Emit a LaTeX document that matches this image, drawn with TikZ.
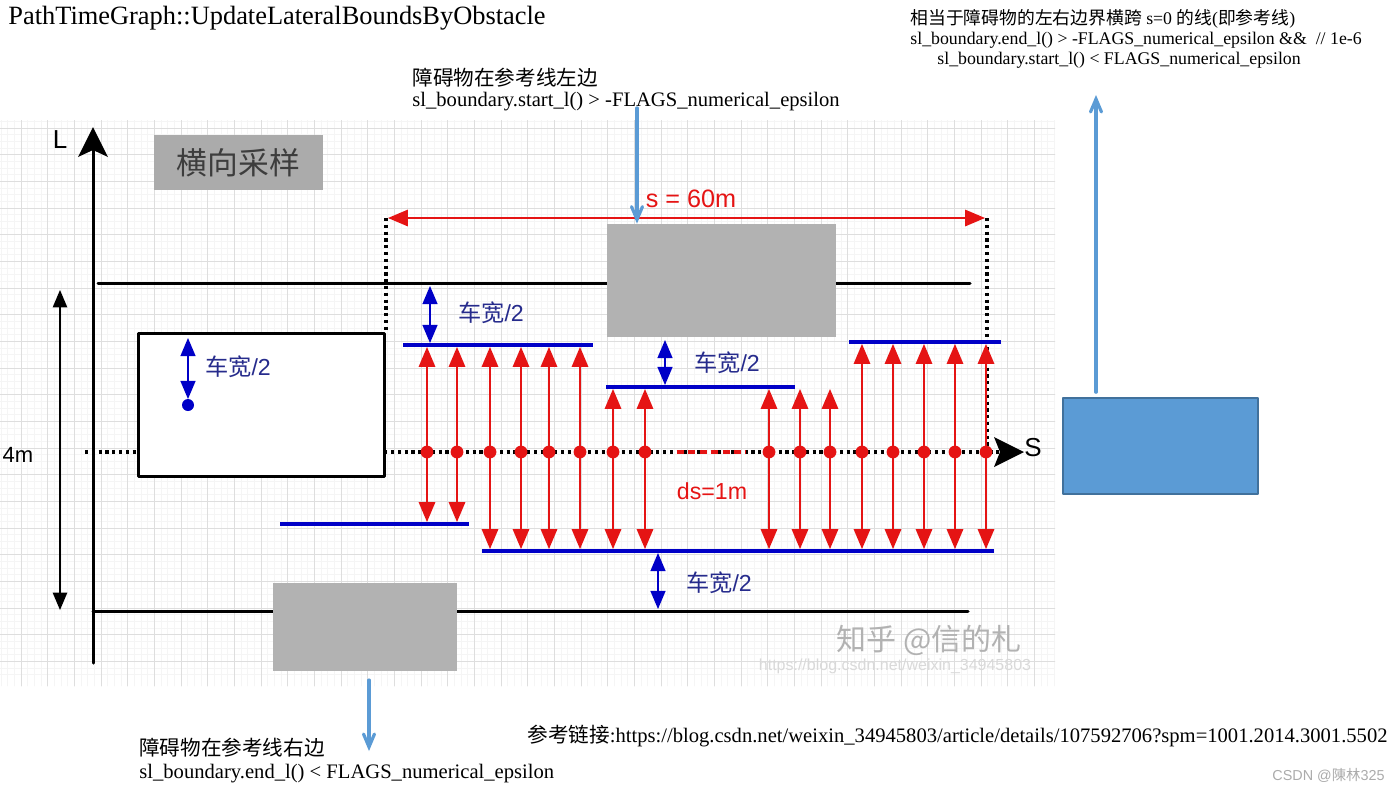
\documentclass[tikz,border=0pt]{standalone}
\usepackage{fontspec}
\setmainfont{Liberation Serif}
\newfontfamily\cjk{Noto Sans CJK SC}
\newfontfamily\arialf{Liberation Sans}
\usetikzlibrary{arrows}
\definecolor{ffqqqq}{rgb}{0.9,0.08,0.08}
\definecolor{qqqqcc}{rgb}{0.,0.,0.78}
\definecolor{zzqqww}{rgb}{0.15,0.17,0.55}
\definecolor{wwccff}{rgb}{0.357,0.608,0.835}
\definecolor{zzwwww}{rgb}{0.255,0.443,0.612}
\definecolor{bfbfbf}{rgb}{0.7,0.7,0.7}
\definecolor{sqsqsq}{rgb}{0.67,0.67,0.67}
\definecolor{zdzdzd}{rgb}{0.24,0.24,0.24}
\definecolor{dcdcdc}{rgb}{0.87,0.87,0.87}
\definecolor{fgfgfg}{rgb}{0.96,0.96,0.96}

\begin{document}
\begin{tikzpicture}[line cap=round,line join=round,>=triangle 45,x=0.5pt,y=-0.5pt,
	note/.style={anchor=base west,inner sep=0,font=\fontsize{10.3}{12}\selectfont},
	notes/.style={anchor=base west,inner sep=0,font=\fontsize{8.9}{10}\selectfont},
	lbl/.style={inner sep=0,font=\arialf\fontsize{11.6}{13}\selectfont},
	obst/.style={fill=bfbfbf,draw=none,inner sep=0},
	road/.style={line width=1.5pt,color=black},
	refline/.style={line width=1.6pt,line cap=butt,dash pattern=on 1.6pt off 1.8pt},
	bound/.style={line width=1.9pt,color=qqqqcc,line cap=butt},
	dimarr/.style={<->,line width=1.1pt,color=qqqqcc},
	samp/.style={<->,line width=1.3pt,color=ffqqqq},
	annot/.style={-angle 45,line width=1.6pt,color=wwccff}]
	\useasboundingbox (0,0) rectangle (1399,789);
	% grid background
	\begin{scope}
	\clip (0,120) rectangle (1055,686);
	\foreach \i in {0,...,160}
	\draw[color=fgfgfg,line width=0.3pt] ({-5.7+6.667*\i},120) -- ({-5.7+6.667*\i},686);
	\foreach \j in {0,...,86}
	\draw[color=fgfgfg,line width=0.3pt] (0,{101.3+6.667*\j}) -- (1055,{101.3+6.667*\j});
	\foreach \i in {0,...,40}
	\draw[color=dcdcdc,line width=0.4pt] ({-5.7+26.67*\i},120) -- ({-5.7+26.67*\i},686);
	\foreach \j in {0,...,22}
	\draw[color=dcdcdc,line width=0.4pt] (0,{101.3+26.67*\j}) -- (1055,{101.3+26.67*\j});
	\end{scope}
	% texts
	\node[anchor=base west,inner sep=0,font=\fontsize{13.2}{15}\selectfont] (title) at (8,24) {PathTimeGraph::UpdateLateralBoundsByObstacle};
	\node[note] (txtLa) at (412,85) {\cjk 障碍物在参考线左边};
	\node[note] (txtLb) at (412,106) {sl\_boundary.start\_l() > -FLAGS\_numerical\_epsilon};
	\node[notes] (txtTa) at (910,24) {{\cjk 相当于障碍物的左右边界横跨} s=0 {\cjk 的线}({\cjk 即参考线})};
	\node[notes] (txtTb) at (910,44) {sl\_boundary.end\_l() > -FLAGS\_numerical\_epsilon \&\& \ // 1e-6};
	\node[notes] (txtTc) at (937,64) {sl\_boundary.start\_l() < FLAGS\_numerical\_epsilon};
	\node[note] (txtRa) at (139,755) {\cjk 障碍物在参考线右边};
	\node[note] (txtRb) at (139,778) {sl\_boundary.end\_l() < FLAGS\_numerical\_epsilon};
	\node[note] (link) at (527,742) {{\cjk 参考链接}:https://blog.csdn.net/weixin\_34945803/article/details/107592706?spm=1001.2014.3001.5502};
	\node[anchor=base east,inner sep=0,text=sqsqsq,font=\arialf\fontsize{7.2}{8}\selectfont] (csdn) at (1385,780) {CSDN @{\cjk 陳林}325};
	% road and axes
	\draw[road] (98,283) -- (970,283);
	\draw[road] (93,611) -- (968,611);
	\draw[road] (93,663) -- (93,150);
	\fill (93,127) -- (108,157) -- (93,150) -- (78,157) -- cycle;
	\node[lbl,font=\arialf\fontsize{13}{15}\selectfont] (Llab) at (60,140) {L};
	\draw[<->,line width=1pt] (60,290) -- (60,610);
	\node[lbl,font=\arialf\fontsize{11}{13}\selectfont] (wid) at (18,455) {4m};
	\node[obst,fill=sqsqsq,minimum width=84.5pt,minimum height=27.5pt,text=zdzdzd,font=\cjk\fontsize{15.4}{18}\selectfont] (head) at (238.5,162.5) {横向采样};
	% obstacles
	\node[obst,minimum width=114.5pt,minimum height=56.5pt] (obsU) at (721.5,280.5) {};
	\node[obst,minimum width=92pt,minimum height=44pt] (obsD) at (365,627) {};
	\draw[refline] (85,452) -- (1000,452);
	\fill (1024,452) -- (994,437) -- (1000,452) -- (994,467) -- cycle;
	\node[lbl,font=\arialf\fontsize{13}{15}\selectfont] (Slab) at (1033,448) {S};
	\draw[refline] (386,218) -- (386,332);
	\draw[refline] (987,218) -- (987,452);
	% ego vehicle
	\node[draw,fill=white,line width=1.5pt,inner sep=0,minimum width=123pt,minimum height=71.5pt] (ego) at (261.5,405) {};
	\draw[dimarr] (188,338) -- (188,399);
	\fill[qqqqcc] (188,405) circle (3pt);
	\node[lbl,text=zzqqww] (wEgo) at (238,367) {{\cjk 车宽}/2};
	% horizon
	\draw[<->,line width=1.3pt,color=ffqqqq] (388,218) -- (985,218);
	\node[lbl,text=ffqqqq,font=\arialf\fontsize{12.6}{15}\selectfont] (horz) at (691,199) {s = 60m};
	% lateral bounds
	\draw[bound] (403,345) -- (593,345);
	\draw[bound] (606,387) -- (795,387);
	\draw[bound] (849,342) -- (1001,342);
	\draw[bound] (280,524) -- (469,524);
	\draw[bound] (482,551) -- (994,551);
	\draw[dimarr] (430,286) -- (430,343);
	\node[lbl,text=zzqqww] (wUp) at (491,313) {{\cjk 车宽}/2};
	\draw[dimarr] (665,340) -- (665,385);
	\node[lbl,text=zzqqww] (wMid) at (727,363) {{\cjk 车宽}/2};
	\draw[dimarr] (658,553) -- (658,609);
	\node[lbl,text=zzqqww] (wLow) at (719,583) {{\cjk 车宽}/2};
	% samples
	\foreach \x in {427,457}
	\draw[samp] (\x,347) -- (\x,522);
	\foreach \x in {490,521,549,580}
	\draw[samp] (\x,347) -- (\x,549);
	\foreach \x in {613,645,769,800,830}
	\draw[samp] (\x,389) -- (\x,549);
	\foreach \x in {862,893,924,955,986}
	\draw[samp] (\x,344) -- (\x,549);
	\foreach \x in {427,457,490,521,549,580,613,645,769,800,830,862,893,924,955,986}
	\fill[ffqqqq] (\x,452) circle (3.2pt);
	\draw[ffqqqq,line width=1.8pt,line cap=butt,dash pattern=on 3.5pt off 2.2pt] (677,452) -- (746,452);
	\node[lbl,text=ffqqqq] (ds) at (712,491) {ds=1m};
	% watermark
	\node[inner sep=0,text=black!30,font=\cjk\fontsize{15}{18}\selectfont] (wm) at (929,640) {知乎 @信的札};
	\node[inner sep=0,text=black!15,font=\arialf\fontsize{8}{9}\selectfont] (wmurl) at (895,666) {https://blog.csdn.net/weixin\_34945803};
	% notes
	\node[draw=zzwwww,fill=wwccff,line width=0.8pt,inner sep=0,minimum width=97.5pt,minimum height=48pt] (bbox) at (1160.5,446) {};
	\coordinate (aL) at (637,108);
	\draw[annot] (aL) -- (aL |- obsU.north);
	\coordinate (aR) at (369,680);
	\coordinate (aRe) at (369,751);
	\draw[annot] (aR) -- (aRe);
	\coordinate (aT) at (1096,95);
	\draw[annot] ([yshift=2.5pt]bbox.north -| aT) -- (aT);
\end{tikzpicture}
\end{document}
